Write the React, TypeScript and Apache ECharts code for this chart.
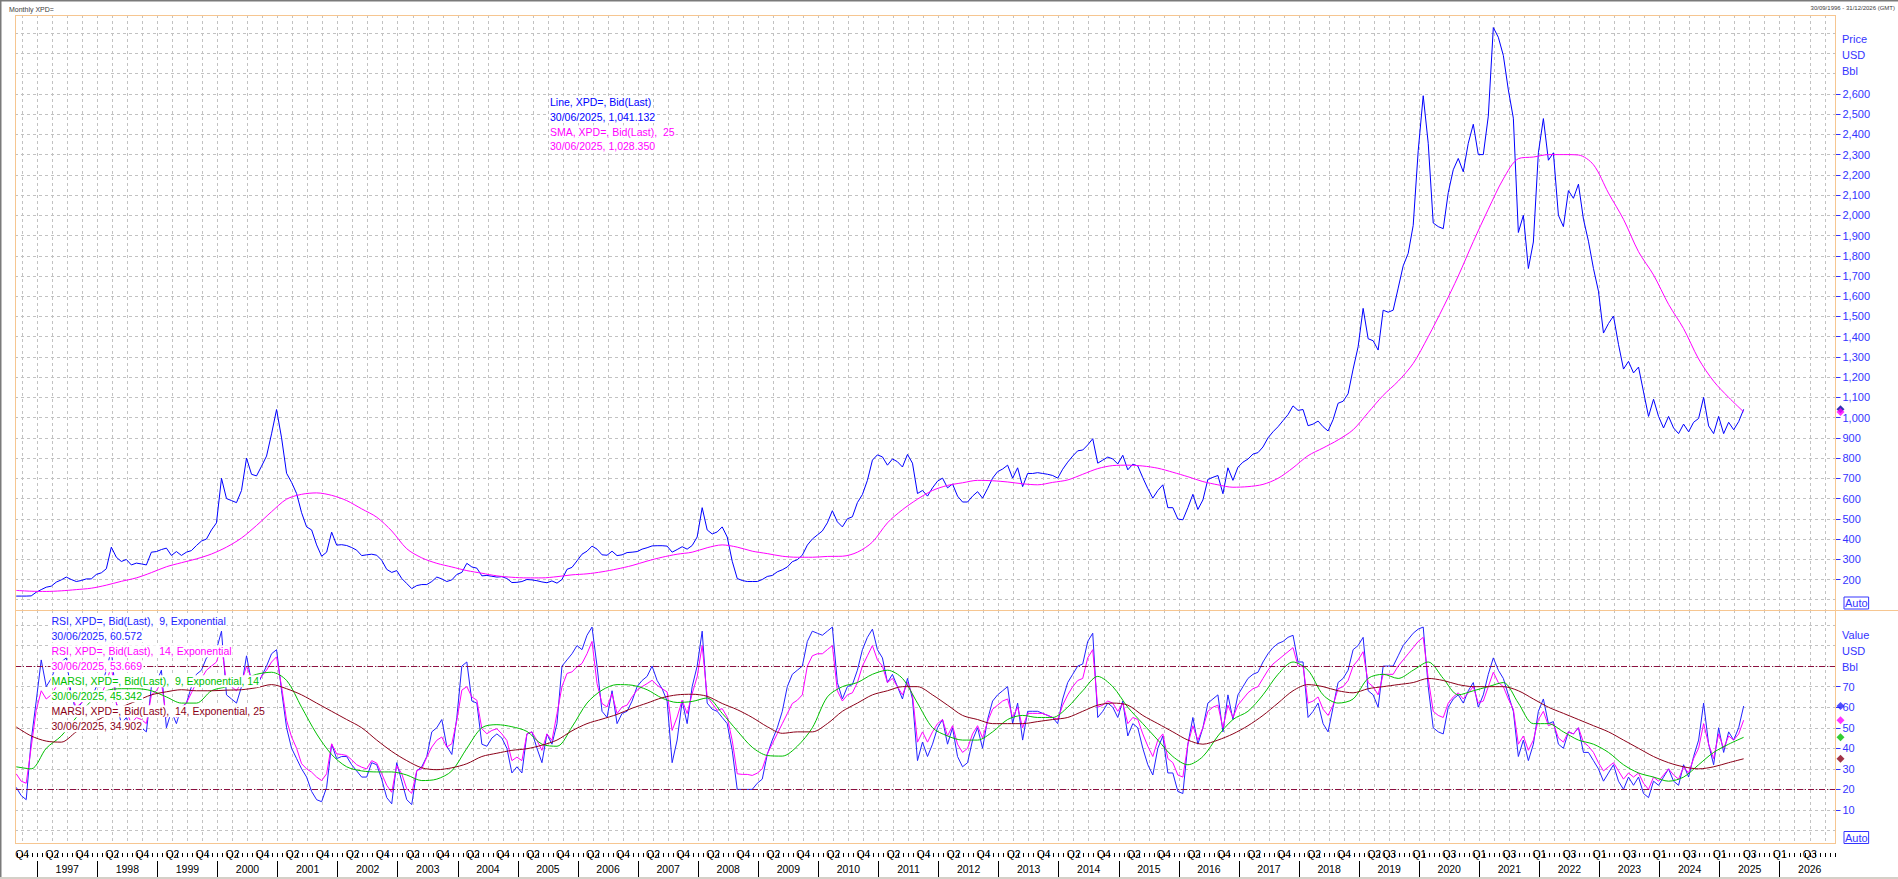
import React, { useEffect, useRef } from "react";
import * as echarts from "echarts";

// ---------------- DATA ----------------
// Monthly XPD= closes, Sep 1996 .. Jun 2025 (one value per month)
const priceValues = [
  118, 118, 118, 119,
  137, 150, 162, 167, 187, 198, 212, 200, 190, 195, 203, 203,
  225, 233, 253, 360, 310, 289, 299, 272, 281, 277, 272, 335,
  338, 348, 355, 319, 338, 319, 335, 343, 368, 390, 400, 445,
  480, 700, 600, 590, 580, 640, 800, 720, 712, 760, 810, 920,
  1040, 900, 725, 680, 625, 530, 460, 445, 371, 315, 335, 434,
  370, 372, 368, 358, 345, 318, 322, 325, 320, 295, 250, 235,
  244, 205, 180, 155, 170, 175, 175, 190, 212, 203, 190, 198,
  225, 235, 280, 262, 256, 218, 220, 216, 212, 214, 205, 185,
  186, 190, 200, 198, 194, 188, 184, 193, 182, 200, 250, 260,
  292, 325, 340, 365, 350, 322, 320, 340, 318, 322, 333, 335,
  338, 350, 357, 366, 367, 367, 365, 335, 348, 362, 350, 368,
  410, 555, 445, 425, 435, 460, 410, 290, 205, 195, 190, 190,
  190, 200, 215, 220, 238, 248, 262, 288, 298, 320, 370, 400,
  420, 440, 480, 540, 485, 460, 500, 510, 580, 620, 690, 790,
  816, 806, 765, 796, 782, 756, 818, 775, 625, 640, 612, 653,
  686, 701, 653, 672, 612, 583, 583, 612, 634, 602, 649, 701,
  733, 746, 765, 701, 752, 659, 724, 724, 728, 724, 720, 714,
  701, 745, 780, 810, 836, 840, 865, 896, 775, 790, 805, 796,
  771, 814, 742, 770, 761, 703, 649, 602, 640, 668, 555, 555,
  499, 495, 555, 621, 546, 593, 695, 705, 714, 624, 752, 690,
  755, 780, 795, 820, 827, 855, 900, 930, 955, 985, 1015, 1058,
  1036, 1040, 960, 968, 983, 955, 934, 990, 1071, 1081, 1118, 1240,
  1350, 1540, 1390, 1380, 1334, 1531, 1521, 1531, 1640, 1750, 1812, 1950,
  2319, 2591, 2356, 1962, 1944, 1934, 2112, 2225, 2281, 2215, 2356, 2450,
  2300, 2300, 2490, 2928, 2880, 2790, 2620, 2480, 1915, 2000, 1737, 1868,
  2309, 2478, 2272, 2309, 2000, 1944, 2122, 2084, 2154, 1981, 1872, 1737,
  1625, 1418, 1465, 1502, 1362, 1240, 1278, 1221, 1250, 1127, 1006, 1091,
  1006, 949, 1006, 949, 921, 968, 930, 977, 996, 1100, 959, 921,
  1006, 921, 977, 940, 980, 1041.132,
];

// SMA 25, read every third month from Sep 1996 (Sep, Dec, Mar, Jun ...)
const smaValues = [
  146, 142, 141, 144, 150, 157, 172, 191, 208, 234, 263, 283, 302, 326, 360, 405,
  467, 535, 597, 621, 628, 616, 590, 549, 508, 440, 352, 307, 280, 262, 244, 231,
  218, 211, 208, 208, 214, 223, 228, 238, 252, 269, 291, 310, 325, 335, 357, 371,
  360, 340, 328, 315, 310, 310, 314, 315, 335, 385, 480, 545, 597, 640, 665, 678,
  690, 688, 682, 673, 668, 680, 692, 720, 748, 763, 765, 761, 750, 730, 708, 684,
  668, 656, 659, 670, 700, 752, 812, 850, 890, 940, 1025, 1110, 1180, 1268, 1400, 1545,
  1700, 1870, 2030, 2180, 2280, 2288, 2300, 2300, 2298, 2250, 2110, 1980, 1820, 1705, 1560, 1440,
  1290, 1180, 1100, 1028.35,
];

// RSI 9 (monthly, Sep 1996 .. Jun 2025)
const rsi9Values = [
  21, 17, 15, 44,
  63, 83, 70, 74, 80, 82, 84, 66, 58, 62, 66, 64,
  70, 70, 78, 88, 62, 52, 55, 48, 52, 50, 48, 70,
  72, 78, 50, 58, 52, 60, 62, 70, 76, 78, 84, 86,
  88, 97, 66, 64, 62, 70, 85, 72, 70, 75, 80, 86,
  88, 68, 50, 40, 35, 30, 26, 19, 15, 14, 21, 42,
  35, 36, 36, 32, 29, 26, 26, 33, 32, 25, 16, 13,
  33, 24, 15, 12.6, 29, 31, 36, 48, 50, 54, 41, 37,
  55, 80, 82, 63, 62, 42, 41, 45, 47, 45, 40, 28,
  31, 28, 47, 48, 40, 33, 47, 42, 52, 80, 83, 86,
  90, 88, 95, 99, 80, 58, 55, 68, 52, 57, 58, 63,
  70, 73, 75, 80, 73, 69, 63, 33, 44, 63, 52, 70,
  80, 97, 62, 59, 58, 55, 52, 39, 20, 20, 20, 20,
  23, 25, 37, 44, 50, 58, 70, 76, 78, 80, 92, 97,
  96, 95, 97, 99, 72, 64, 70, 71, 78, 88, 94, 98,
  88, 84, 72, 76, 70, 64, 74, 64, 34, 43, 36, 42,
  50, 54, 42, 50, 36, 31, 33, 44, 50, 40, 54, 63,
  66, 68, 70, 52, 62, 44, 58, 58, 58, 57, 56, 55,
  52, 64, 72, 76, 80, 81, 92, 96, 55, 58, 62, 60,
  55, 63, 46, 52, 50, 40, 32, 27, 40, 46, 28, 28,
  19, 18, 42, 55, 42, 50, 62, 64, 66, 48, 66, 54,
  66, 70, 74, 76, 77, 82, 86, 89, 91, 92, 94, 95,
  82, 82, 55, 58, 62, 52, 48, 60, 72, 74, 78, 88,
  90, 94, 68, 66, 60, 80, 80, 80, 85, 90, 93, 96,
  98, 99, 70, 50, 48, 47, 60, 64, 66, 62, 68, 72,
  60, 66, 76, 84, 78, 74, 66, 58, 36, 44, 34, 42,
  58, 64, 52, 53, 42, 40, 48, 47, 50, 38, 38, 34,
  30, 24, 28, 32, 24, 20, 26, 22, 26, 18, 16, 24,
  22, 26, 30, 24, 22, 32, 26, 36, 44, 62, 42, 32,
  50, 38, 48, 44, 50, 60.572,
];

// RSI 14 (monthly)
const rsi14Values = [
  27.6, 24, 23, 40.6,
  58.5, 68, 64, 66, 70, 72, 74, 66, 60, 62, 64, 63,
  66, 66, 72, 80, 62, 56, 58, 52, 55, 54, 52, 66,
  68, 72, 55, 60, 55, 60, 62, 67, 72, 74, 78, 80,
  82, 90, 72, 70, 68, 72, 80, 74, 72, 75, 78, 82,
  84.5, 70, 53.6, 45.5, 40, 32.5, 30, 28.4, 26, 24.3, 27.6, 42.2,
  37.3, 37, 36.5, 34.4, 32, 30.8, 30, 34, 32.8, 27.6, 22, 18.6,
  31.6, 27.6, 20.3, 18.1, 29.2, 30, 35.7, 40.6, 43.9, 45.5, 40.6, 42.2,
  53.6, 68.3, 70, 65, 63.4, 49.5, 47.1, 48.7, 49.5, 47, 43.8, 34,
  35.7, 34, 47, 48, 43.8, 39, 47, 43.8, 56.9, 70, 76.4, 77.2,
  79.6, 81.3, 86, 92, 71.5, 61.8, 60.1, 66.6, 56.9, 60.1, 61, 65,
  68.3, 70, 71.5, 73.1, 70.7, 69, 67.4, 48.7, 55.2, 63.4, 56.9, 66.6,
  74.8, 90, 65, 61.8, 58.5, 59.3, 55.2, 43.8, 27.6, 27.3, 27.3, 26.8,
  27.9, 30, 37.3, 42.2, 47.1, 52, 56.9, 61.8, 63.4, 66, 80, 85,
  86, 86, 88, 90, 68, 63, 66, 67, 72, 80, 85, 90,
  83, 80, 72, 74, 70, 66, 72, 66, 43, 48, 43, 48,
  52, 54, 46, 51, 42, 38, 40, 47, 51, 45, 53, 59,
  61, 63, 64, 55, 60, 50, 57, 57, 57, 57, 56, 55,
  54, 61, 66, 70, 73, 74, 84, 88, 60, 61, 63, 62,
  58, 62, 52, 55, 54, 47, 41, 36, 44, 47, 35, 33,
  27, 26, 42, 51, 44, 50, 58, 60, 61, 50, 61, 55,
  61, 64, 67, 69, 70, 74, 78, 81, 83, 85, 87, 89,
  80, 80, 62, 63, 65, 59, 56, 61, 69, 70, 73, 80,
  83, 87, 72, 70, 66, 76, 76, 76, 80, 83, 86, 89,
  92, 94, 74, 58, 56, 55, 62, 65, 67, 64, 67, 70,
  62, 63, 70, 77, 72, 70, 64, 59, 42, 46, 39, 44,
  54, 58, 51, 52, 45, 43, 48, 47, 50, 43, 41, 38,
  33, 29, 31, 33, 29, 25, 28, 26, 28, 23, 20, 26,
  24, 27, 30, 27, 25, 31, 28, 35, 40, 52, 42, 35,
  47, 40, 46, 44, 47, 53.669,
];

// MARSI 9/14, read every third month from Sep 1996
const marsi9Values = [
  31, 30, 40, 46, 55, 63, 68, 69, 69, 68, 65, 62, 62, 68, 70, 73,
  76, 77, 73, 60, 47, 37, 31, 29, 28.5, 28.5, 27, 24.3, 25, 29, 40, 50,
  51.5, 50.5, 48.2, 42, 41, 50.4, 62, 68.3, 71, 70.7, 68.5, 64.4, 62.3, 62.8, 64.5, 57,
  48.5, 40.5, 36.5, 36.2, 41, 50, 65, 70, 72, 76, 78, 74, 62, 50, 46, 44,
  44, 48, 54, 56, 55, 55, 60, 68, 75, 70, 60, 52, 44, 36, 32, 36,
  46, 54, 58, 66, 76, 82, 78, 66, 62, 64, 74, 76, 74, 78, 82, 74,
  66, 68, 70, 72, 62, 52, 52, 48, 44, 42, 38, 32, 28, 26, 24, 26,
  32, 38, 42, 45.342,
];
const marsi14Values = [
  50.4, 46, 43.5, 43, 48, 52, 56, 60, 63, 66, 67.5, 68.5, 68, 68, 68.3, 68.5,
  69.5, 71, 69, 66, 62, 58, 54, 50, 44, 38.5, 34, 30.5, 29.6, 30.5, 32.5, 36,
  37.6, 39, 39.8, 41.5, 44, 48.5, 52, 54.2, 56.5, 59.5, 62, 64.6, 66, 66.3, 65.3, 61.8,
  58.8, 55, 50.5, 47.3, 48, 48, 52, 58, 62, 66, 68, 70, 70, 66, 61, 56,
  54, 52, 52, 52, 53, 54, 55, 58, 61, 62, 61, 56, 52, 48, 44, 42,
  44, 47, 51, 56, 62, 68, 71, 70, 68, 67, 69, 70, 71, 72, 74, 73,
  71, 70, 70, 70, 68, 64, 60, 57, 54, 51, 48, 44, 40, 36, 33, 31,
  30, 31, 33, 34.902,
];

const priceAxisTicks = [200, 300, 400, 500, 600, 700, 800, 900, 1000, 1100, 1200, 1300, 1400, 1500, 1600, 1700, 1800, 1900, 2000, 2100, 2200, 2300, 2400, 2500, 2600];
const rsiAxisTicks = [10, 20, 30, 40, 50, 60, 70];
const rsiBands = [80, 20];
const lastDate = "30/06/2025";

// ---------------- LAYOUT ----------------
const W = 1898;
const H = 879;
const FONT = '"Liberation Sans", Arial, Helvetica, sans-serif';
const X0 = 22.2; // pixel of 1 Oct 1996
const PXM = 5.0072; // pixels per month
const PLOT_L = 15;
const PLOT_R = 1835.5;
const P_TOP = 15;
const P_SEP = 610;
const P_BOT = 843;
const xMin = (PLOT_L - X0) / PXM;
const xMax = (PLOT_R - X0) / PXM;
const BG_LEFT = X0 - 3 * PXM;
const K_SHIFT = -1.2; // month index of a data point relative to 1 Oct 1996
const RIGHT = W - PLOT_R;

const P100 = (579.5 - 93.9) / 24;
const yP = (v: number) => 579.5 - ((v - 200) / 100) * P100;
const yR = (v: number) => 830.5 - 2.055 * v;

const C_PRICE = "#0000ff";
const C_MAG = "#ff00ff";
const C_RSI9 = "#2222ff";
const C_GREEN = "#00c000";
const C_DRED = "#8b0018";
const C_AXIS = "#3434ff";
const C_GRID = "#c2c2c2";
const C_BORDER = "#f6c691";
const C_BAND = "#8b1040";

const last = (a: number[]) => a[a.length - 1];
const fmt3 = (v: number) => v.toLocaleString("en-US", { minimumFractionDigits: 3, maximumFractionDigits: 3 });
const monthly = (arr: number[]) => arr.map((v, k) => [k + K_SHIFT, v]);
const quarterly = (arr: number[]) => arr.map((v, i) => [i * 3 + K_SHIFT, v]);

function ymOf(m: number) {
  const total = 1996 * 12 + 9 + m;
  return { y: Math.floor(total / 12), mo: total % 12 };
}
function quarterLabel(v: number) {
  if (Math.abs(v - Math.round(v)) > 1e-6) return "";
  const { y, mo } = ymOf(Math.round(v));
  const q = Math.floor(mo / 3) + 1;
  const newRule = y > 2019 || (y === 2019 && mo >= 6);
  const show = newRule ? q === 1 || q === 3 : q === 2 || q === 4;
  return show ? "Q" + q : "";
}
function yearLabel(v: number) {
  if (Math.abs(v - Math.round(v)) > 1e-6) return "";
  const { y, mo } = ymOf(Math.round(v));
  return mo === 6 && y >= 1997 ? String(y) : "";
}

const dashed = { color: C_GRID, type: [3, 3] as number[], width: 1 };

function bgXAxis(gridIndex: number) {
  return {
    gridIndex,
    type: "value",
    min: -3,
    max: xMax,
    interval: 3,
    axisLine: { show: false },
    axisTick: { show: false },
    axisLabel: { show: false },
    splitLine: { show: true, showMinLine: false, showMaxLine: false, lineStyle: dashed },
  };
}
const dummyY = (gridIndex: number) => ({ gridIndex, type: "value", min: 0, max: 1, show: false });

function txt(x: number, y: number, text: string, fill: string, extra: any = {}) {
  return {
    type: "text",
    x,
    y,
    z: 100,
    silent: true,
    style: {
      text,
      fill,
      font: `${extra.size || 11}px ${FONT}`,
      verticalAlign: "middle",
      align: extra.align || "left",
      backgroundColor: extra.bg,
      padding: extra.padding,
      borderColor: extra.borderColor,
      borderWidth: extra.borderWidth,
      lineHeight: extra.lineHeight,
    },
  };
}
function hline(x1: number, x2: number, y: number, color: string) {
  return { type: "line", z: 90, silent: true, shape: { x1, y1: y, x2, y2: y }, style: { stroke: color, lineWidth: 1 } };
}
function vline(x: number, y1: number, y2: number, color: string) {
  return { type: "line", z: 90, silent: true, shape: { x1: x, y1, x2: x, y2 }, style: { stroke: color, lineWidth: 1 } };
}

function buildOption() {
  const legendBg = { bg: "#ffffff", size: 10.5, lineHeight: 12, padding: [0, 1] };
  const lowerLegend = [
    [`RSI, XPD=, Bid(Last),  9, Exponential`, C_RSI9],
    [`${lastDate}, ${fmt3(last(rsi9Values))}`, C_RSI9],
    [`RSI, XPD=, Bid(Last),  14, Exponential`, C_MAG],
    [`${lastDate}, ${fmt3(last(rsi14Values))}`, C_MAG],
    [`MARSI, XPD=, Bid(Last),  9, Exponential, 14`, C_GREEN],
    [`${lastDate}, ${fmt3(last(marsi9Values))}`, C_GREEN],
    [`MARSI, XPD=, Bid(Last),  14, Exponential, 25`, C_DRED],
    [`${lastDate}, ${fmt3(last(marsi14Values))}`, C_DRED],
  ];
  const upperLegend = [
    [`Line, XPD=, Bid(Last)`, C_PRICE, 102],
    [`${lastDate}, ${fmt3(last(priceValues))}`, C_PRICE, 116.8],
    [`SMA, XPD=, Bid(Last),  25`, C_MAG, 131.6],
    [`${lastDate}, ${fmt3(last(smaValues))}`, C_MAG, 146.2],
  ];

  const graphic: any[] = [
    { type: "rect", z: 50, silent: true, shape: { x: 2, y: 2, width: PLOT_L - 2.5, height: 875 }, style: { fill: "#ffffff" } },
    { type: "rect", z: 95, silent: true, shape: { x: 0, y: 0, width: W, height: 1.5 }, style: { fill: "#7a7a7a" } },
    { type: "rect", z: 95, silent: true, shape: { x: 0, y: 0, width: 1.5, height: H }, style: { fill: "#7a7a7a" } },
    { type: "rect", z: 95, silent: true, shape: { x: 0, y: 877, width: W, height: 2 }, style: { fill: "#d4d0c8" } },
    hline(PLOT_L, PLOT_R, P_TOP + 0.5, C_BORDER),
    hline(PLOT_L, W, P_SEP + 0.5, C_BORDER),
    hline(PLOT_L, PLOT_R, P_BOT + 0.5, C_BORDER),
    vline(PLOT_L + 0.5, P_TOP, P_BOT + 1, C_BORDER),
    vline(PLOT_R, P_TOP, P_BOT + 1, C_BORDER),
    txt(9, 9.5, "Monthly XPD=", "#404040", { size: 7 }),
    txt(1895, 8, "30/09/1996 - 31/12/2026 (GMT)", "#404040", { size: 6, align: "right" }),
    txt(1842, 39, "Price", C_AXIS),
    txt(1842, 55, "USD", C_AXIS),
    txt(1842, 71, "Bbl", C_AXIS),
    txt(1844, 603, "Auto", C_AXIS, { borderColor: C_AXIS, borderWidth: 1, padding: [1, 1, 0, 1], lineHeight: 11 }),
    txt(1842, 635, "Value", C_AXIS),
    txt(1842, 651, "USD", C_AXIS),
    txt(1842, 667, "Bbl", C_AXIS),
    txt(1844, 837.5, "Auto", C_AXIS, { borderColor: C_AXIS, borderWidth: 1, padding: [1, 1, 0, 1], lineHeight: 11 }),
    ...upperLegend.map(([t, c, y]) => txt(549, y as number, t as string, c as string, legendBg)),
    ...lowerLegend.map(([t, c], i) => txt(50.5, 621.3 + i * 15.0, t, c, legendBg)),
  ];

  const lineSeries = (name: string, data: number[][], color: string, xi: number, yi: number, extra: any = {}) => ({
    type: "line",
    name,
    xAxisIndex: xi,
    yAxisIndex: yi,
    data,
    showSymbol: false,
    symbol: "none",
    silent: true,
    clip: false,
    lineStyle: { color, width: 1 },
    itemStyle: { color },
    z: 3,
    ...extra,
  });

  return {
    animation: false,
    backgroundColor: "#ffffff",
    grid: [
      { left: PLOT_L, right: RIGHT, top: yP(3000), height: yP(0) - yP(3000) },
      { left: BG_LEFT, right: RIGHT, top: P_TOP, height: P_SEP - P_TOP },
      { left: PLOT_L, right: RIGHT, top: yR(110), height: yR(-10) - yR(110) },
      { left: BG_LEFT, right: RIGHT, top: P_SEP, height: P_BOT - P_SEP },
      { left: BG_LEFT, right: RIGHT, top: P_BOT, height: 10 },
      { left: BG_LEFT, right: RIGHT, top: 861, height: 16 },
    ],
    xAxis: [
      { gridIndex: 0, type: "value", min: xMin, max: xMax, show: false },
      bgXAxis(1),
      { gridIndex: 2, type: "value", min: xMin, max: xMax, show: false },
      bgXAxis(3),
      {
        gridIndex: 4,
        type: "value",
        position: "top",
        min: -3,
        max: xMax,
        interval: 3,
        axisLine: { show: false },
        axisTick: { show: true, inside: true, length: 4, lineStyle: { color: "#000000", width: 1 } },
        minorTick: { show: true, splitNumber: 3, length: 4, lineStyle: { color: "#000000", width: 1 } },
        axisLabel: { inside: true, margin: 5, color: "#000000", fontSize: 10.5, fontFamily: FONT, formatter: quarterLabel },
        splitLine: { show: false },
      },
      {
        gridIndex: 5,
        type: "value",
        position: "top",
        min: -3,
        max: xMax,
        interval: 6,
        axisLine: { show: false },
        axisTick: { show: false },
        axisLabel: { inside: true, margin: 2, color: "#000000", fontSize: 10.5, fontFamily: FONT, formatter: yearLabel },
        splitLine: { show: true, showMaxLine: false, lineStyle: { color: ["rgba(0,0,0,0)", "#000000"], width: 1, type: "solid" } },
      },
    ],
    yAxis: [
      {
        gridIndex: 0,
        type: "value",
        min: 0,
        max: 3000,
        interval: 100,
        position: "right",
        axisLine: { show: false },
        axisTick: { show: false },
        axisLabel: { show: false },
        splitLine: { show: true, showMinLine: false, showMaxLine: false, lineStyle: dashed },
      },
      {
        gridIndex: 0,
        type: "value",
        min: 0,
        max: 3000,
        interval: 100,
        position: "right",
        axisLine: { show: false },
        axisTick: { show: true, length: 5, customValues: priceAxisTicks, lineStyle: { color: C_AXIS, width: 1 } },
        axisLabel: {
          customValues: priceAxisTicks,
          margin: 7,
          color: C_AXIS,
          fontSize: 11,
          fontFamily: FONT,
          formatter: (v: number) => (priceAxisTicks.includes(v) ? v.toLocaleString("en-US") : ""),
        },
        splitLine: { show: false },
      },
      dummyY(1),
      {
        gridIndex: 2,
        type: "value",
        min: -10,
        max: 110,
        interval: 10,
        position: "right",
        axisLine: { show: false },
        axisTick: { show: false },
        axisLabel: { show: false },
        splitLine: { show: true, showMinLine: false, showMaxLine: false, lineStyle: dashed },
      },
      {
        gridIndex: 2,
        type: "value",
        min: -10,
        max: 110,
        interval: 10,
        position: "right",
        axisLine: { show: false },
        axisTick: { show: true, length: 5, customValues: rsiAxisTicks, lineStyle: { color: C_AXIS, width: 1 } },
        axisLabel: {
          customValues: rsiAxisTicks,
          margin: 7,
          color: C_AXIS,
          fontSize: 11,
          fontFamily: FONT,
          formatter: (v: number) => (rsiAxisTicks.includes(v) ? String(v) : ""),
        },
        splitLine: { show: false },
      },
      dummyY(3),
      dummyY(4),
      dummyY(5),
    ],
    series: [
      lineSeries("Line", monthly(priceValues), C_PRICE, 0, 0),
      lineSeries("SMA", quarterly(smaValues), C_MAG, 0, 0, { smooth: 0.3 }),
      {
        type: "scatter",
        xAxisIndex: 0,
        yAxisIndex: 0,
        clip: false,
        silent: true,
        symbol: "diamond",
        symbolSize: 8,
        z: 6,
        data: [
          { value: [xMax + 1, last(priceValues)], itemStyle: { color: "#0000a0" } },
          { value: [xMax + 1, last(smaValues)], itemStyle: { color: C_MAG } },
        ],
      },
      lineSeries("RSI9", monthly(rsi9Values), C_RSI9, 2, 3, {
        markLine: {
          silent: true,
          symbol: ["none", "none"],
          label: { show: false },
          lineStyle: { color: C_BAND, type: [6, 2, 1, 2], width: 1 },
          data: rsiBands.map((v) => ({ yAxis: v })),
        },
      }),
      lineSeries("RSI14", monthly(rsi14Values), C_MAG, 2, 3),
      lineSeries("MARSI9", quarterly(marsi9Values), C_GREEN, 2, 3, { smooth: 0.3 }),
      lineSeries("MARSI14", quarterly(marsi14Values), C_DRED, 2, 3, { smooth: 0.3 }),
      {
        type: "scatter",
        xAxisIndex: 2,
        yAxisIndex: 3,
        clip: false,
        silent: true,
        symbol: "diamond",
        symbolSize: 8,
        z: 6,
        data: [
          { value: [xMax + 1, last(rsi9Values)], itemStyle: { color: C_RSI9 } },
          { value: [xMax + 1, last(rsi14Values)], itemStyle: { color: C_MAG } },
          { value: [xMax + 1, last(marsi9Values)], itemStyle: { color: C_GREEN } },
          { value: [xMax + 1, last(marsi14Values)], itemStyle: { color: C_DRED } },
        ],
      },
    ],
    graphic,
  };
}

export default function App() {
  const ref = useRef<HTMLDivElement>(null);
  useEffect(() => {
    if (!ref.current) return;
    const chart = echarts.init(ref.current, null, { renderer: "svg", width: W, height: H });
    chart.setOption(buildOption() as any);
    return () => chart.dispose();
  }, []);
  return <div ref={ref} style={{ position: "fixed", left: 0, top: 0, width: W, height: H, background: "#fff" }} />;
}
